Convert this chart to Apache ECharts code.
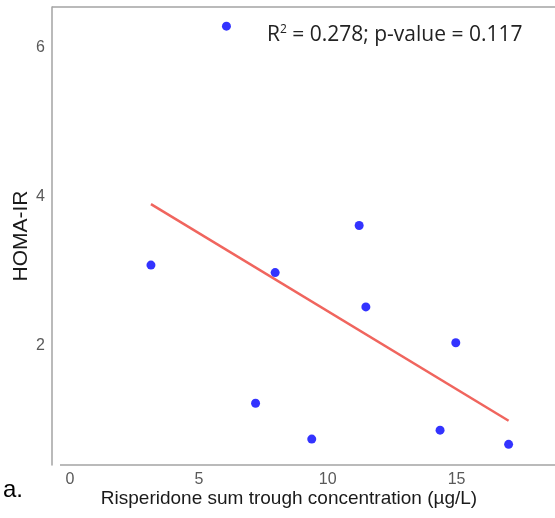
<!DOCTYPE html>
<html>
<head>
<meta charset="utf-8">
<script src="https://cdn.jsdelivr.net/npm/echarts@6/dist/echarts.min.js"></script>
<style>
  html, body { margin: 0; padding: 0; background: #fff; }
  #chart { width: 555px; height: 518px; }
</style>
</head>
<body>
<div id="chart"></div>
<script>
// 数据
const concentration = [6.07, 3.14, 7.96, 11.22, 11.48, 7.20, 9.38, 14.36, 17.02, 14.97];
const homaIR = [6.28, 3.08, 2.98, 3.61, 2.52, 1.23, 0.75, 0.87, 0.68, 2.04];
const xTicks = [0, 5, 10, 15];
const yTicks = [2, 4, 6];
const statsText = "R{sup|2} = 0.278; p-value = 0.117";

// 最小二乘回归线
function fitLine(xs, ys) {
  const n = xs.length;
  const mx = xs.reduce((a, b) => a + b, 0) / n;
  const my = ys.reduce((a, b) => a + b, 0) / n;
  let sxy = 0, sxx = 0;
  xs.forEach((x, i) => {
    sxy += (x - mx) * (ys[i] - my);
    sxx += (x - mx) * (x - mx);
  });
  const slope = sxy / sxx;
  const icpt = my - slope * mx;
  const x0 = Math.min(...xs), x1 = Math.max(...xs);
  return [[x0, icpt + slope * x0], [x1, icpt + slope * x1]];
}

const points = concentration.map((x, i) => [x, homaIR[i]]);
const fit = fitLine(concentration, homaIR);

const chart = echarts.init(document.getElementById("chart"));
const frameColor = "#a3a3a3";
const option = {
  animation: false,
  backgroundColor: "#fff",
  grid: { left: 52, right: 0, top: 7, bottom: 53, containLabel: false },
  xAxis: {
    type: "value",
    min: -0.70,
    max: 18.82,
    interval: 5,
    name: "Risperidone sum trough concentration (µg/L)",
    nameLocation: "middle",
    nameGap: 24,
    nameMoveOverlap: false,
    nameTextStyle: {
      fontFamily: "Liberation Sans",
      fontSize: 19,
      color: "#1a1a1a",
      verticalAlign: "top",
      padding: [0, 29, 0, 0]
    },
    axisLine: { show: false },
    axisTick: { show: false },
    splitLine: { show: false },
    axisLabel: {
      margin: 7,
      fontFamily: "Liberation Sans",
      fontSize: 16,
      color: "#595959",
      customValues: xTicks
    }
  },
  yAxis: {
    type: "value",
    min: 0.403,
    max: 6.537,
    name: "HOMA-IR",
    nameLocation: "middle",
    nameGap: 20,
    nameMoveOverlap: false,
    nameRotate: 90,
    nameTextStyle: {
      fontFamily: "Liberation Sans",
      fontSize: 21,
      color: "#1a1a1a"
    },
    axisLine: { show: true, onZero: false, lineStyle: { color: frameColor, width: 1.5 } },
    axisTick: { show: false },
    splitLine: { show: false },
    axisLabel: {
      margin: 7,
      fontFamily: "Liberation Sans",
      fontSize: 16,
      color: "#595959",
      customValues: yTicks
    }
  },
  graphic: [
    {
      type: "line",
      shape: { x1: 52, y1: 7, x2: 555, y2: 7 },
      style: { stroke: frameColor, lineWidth: 1.5 }
    },
    {
      type: "line",
      shape: { x1: 60, y1: 465, x2: 555, y2: 465 },
      style: { stroke: frameColor, lineWidth: 1.5 }
    },
    {
      type: "text",
      left: 267,
      top: 24,
      style: {
        text: statsText,
        fontFamily: "Open Sans",
        fontSize: 21,
        fill: "#222",
        rich: {
          sup: { fontSize: 12, verticalAlign: "top", padding: [0, 0, 10, 0], fontFamily: "Open Sans", fill: "#222" }
        }
      }
    },
    {
      type: "text",
      left: 3,
      top: 478,
      style: { text: "a.", fontFamily: "Liberation Sans", fontSize: 24, fill: "#000" }
    }
  ],
  series: [
    {
      type: "line",
      data: fit,
      symbol: "none",
      lineStyle: { color: "#F0655E", width: 2.5 },
      z: 2
    },
    {
      type: "scatter",
      data: points,
      symbolSize: 9,
      itemStyle: { color: "#0000FF" },
      z: 3
    }
  ]
};
chart.setOption(option);
</script>
</body>
</html>
